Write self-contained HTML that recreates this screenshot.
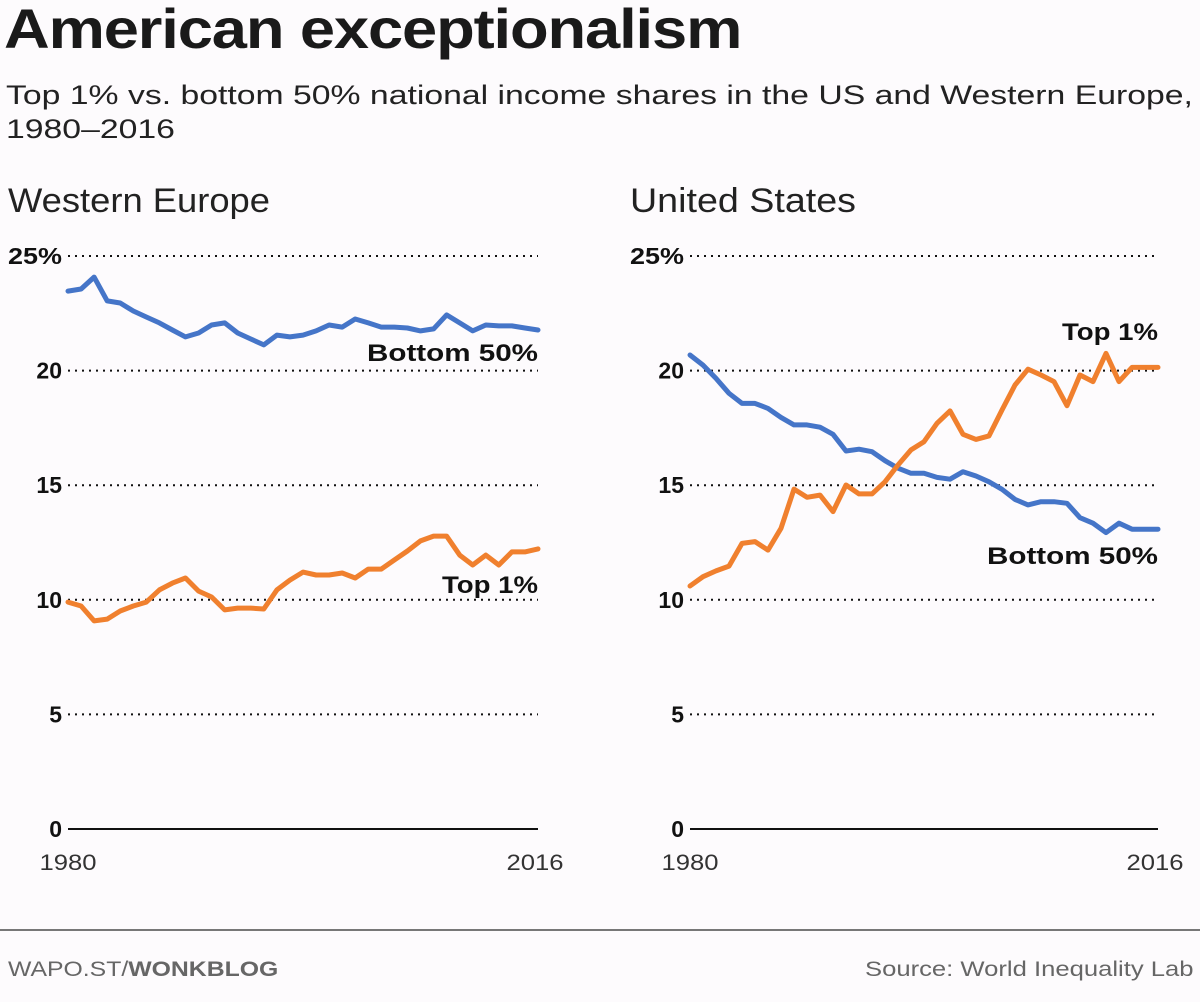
<!DOCTYPE html>
<html><head><meta charset="utf-8">
<style>
html,body{margin:0;padding:0;background:#fdfbfd;}
body{width:1200px;height:1002px;position:relative;overflow:hidden;font-family:"Liberation Sans",sans-serif;color:#111;}
.t{position:absolute;white-space:nowrap;transform-origin:0 0;}
</style></head><body>
<div class="t" style="left:4px;top:-4px;font-size:56px;font-weight:bold;letter-spacing:-1px;color:#1a1a1a;transform:scaleX(1.13);">American exceptionalism</div>
<div class="t" style="left:6px;top:78px;font-size:27px;line-height:34px;color:#222;transform:scaleX(1.25);">Top 1% vs. bottom 50% national income shares in the US and Western Europe,<br>1980–2016</div>
<svg id="chart" width="1200" height="1002" style="position:absolute;left:0;top:0"></svg>
<div style="position:absolute;left:0;top:929px;width:1200px;height:2px;background:#777;"></div>
<div class="t" style="left:8px;top:958px;font-size:21px;color:#666;transform:scaleX(1.18);">WAPO.ST/<b>WONKBLOG</b></div>
<div class="t" style="left:865px;top:958px;font-size:21px;color:#666;transform:scaleX(1.22);">Source: World Inequality Lab</div>
<script>
const years = [];
for (let y = 1980; y <= 2016; y++) years.push(y);
const euBottom50 = [23.47,23.56,24.08,23.04,22.95,22.60,22.34,22.08,21.77,21.47,21.64,21.99,22.08,21.64,21.38,21.12,21.55,21.47,21.55,21.73,21.99,21.90,22.25,22.08,21.90,21.90,21.86,21.73,21.82,22.43,22.08,21.73,21.99,21.95,21.95,21.86,21.77];
const euTop1 = [9.90,9.73,9.08,9.16,9.51,9.73,9.90,10.43,10.73,10.95,10.38,10.12,9.56,9.64,9.64,9.60,10.43,10.86,11.21,11.08,11.08,11.17,10.95,11.34,11.34,11.74,12.13,12.57,12.78,12.78,11.95,11.52,11.95,11.52,12.09,12.09,12.22];
const usBottom50 = [20.68,20.24,19.66,19.01,18.57,18.57,18.35,17.96,17.63,17.63,17.53,17.22,16.49,16.57,16.46,16.07,15.74,15.52,15.52,15.34,15.26,15.59,15.40,15.15,14.82,14.38,14.14,14.28,14.28,14.21,13.58,13.34,12.93,13.34,13.08,13.08,13.08];
const usTop1 = [10.60,11.01,11.26,11.47,12.46,12.54,12.17,13.12,14.83,14.47,14.57,13.85,15.01,14.62,14.62,15.15,15.88,16.54,16.90,17.70,18.24,17.22,17.00,17.15,18.28,19.37,20.06,19.81,19.52,18.47,19.81,19.52,20.75,19.52,20.14,20.14,20.14];
const yTicks = [0,5,10,15,20,25];
const yTickLabels = ["0","5","10","15","20","25%"];
const xTickLabels = ["1980","2016"];

const NS = "http://www.w3.org/2000/svg";
const svg = document.getElementById("chart");
function mk(tag, attrs, parent) {
  const e = document.createElementNS(NS, tag);
  for (const k in attrs) e.setAttribute(k, attrs[k]);
  (parent || svg).appendChild(e);
  return e;
}
function panel(cfg) {
  const g = mk("g", {});
  
  
  const x = yr => cfg.x0 + (yr - 1980) / 36 * (cfg.x1 - cfg.x0);
  const y = v => 829 - v * (829 - 256) / 25;
  const title = mk("text", {x: cfg.x0 - 60, y: 212, "font-size": 34, fill: "#222", textLength: cfg.titleLen, lengthAdjust: "spacingAndGlyphs"}, g);
  title.textContent = cfg.title;
  
  
  yTicks.forEach((t, i) => {
    const line = mk("line", {x1: cfg.x0, x2: cfg.x1, y1: y(t), y2: y(t), stroke: "#111",
      "stroke-width": 2, "stroke-dasharray": t === 0 ? "none" : "2 5"}, g);
    
    
    const lab = mk("text", {x: cfg.x0 - 6, y: y(t) + 8, "font-size": 23, "font-weight": "bold", "text-anchor": "end", fill: "#111"}, g);
    if (i === 5) { lab.setAttribute("textLength", 54); lab.setAttribute("lengthAdjust", "spacingAndGlyphs"); }
    lab.textContent = yTickLabels[i];
    
    
  });
  [1980, 2016].forEach((yr, i) => {
    const lab = mk("text", {x: x(yr) + (i === 0 ? 0 : -3), y: 870, "font-size": 22, "text-anchor": "middle", fill: "#333", textLength: 57, lengthAdjust: "spacingAndGlyphs"}, g);
    lab.textContent = xTickLabels[i];
    
    
  });
  cfg.series.forEach(s => {
    const d = s.data.map((v, i) => (i ? "L" : "M") + x(years[i]).toFixed(1) + " " + y(v).toFixed(1)).join(" ");
    const p = mk("path", {d: d, fill: "none", stroke: s.color, "stroke-width": 5, "stroke-linejoin": "round", "stroke-linecap": "round"}, g);
    
    
    const lab = mk("text", {x: s.lx, y: s.ly, "font-size": 24, "font-weight": "bold", "text-anchor": "end", fill: "#111", textLength: s.len, lengthAdjust: "spacingAndGlyphs"}, g);
    lab.textContent = s.label;
    
    
  });
}
panel({name: "western-europe-panel", title: "Western Europe", titleLen: 262, x0: 68, x1: 538, series: [
  {name: "eu-bottom-50-line", data: euBottom50, color: "#4575c8", label: "Bottom 50%", lx: 538, ly: 361, len: 171},
  {name: "eu-top-1-line", data: euTop1, color: "#f0802e", label: "Top 1%", lx: 538, ly: 593, len: 96}
]});
panel({name: "united-states-panel", title: "United States", titleLen: 226, x0: 690, x1: 1158, series: [
  {name: "us-bottom-50-line", data: usBottom50, color: "#4575c8", label: "Bottom 50%", lx: 1158, ly: 564, len: 171},
  {name: "us-top-1-line", data: usTop1, color: "#f0802e", label: "Top 1%", lx: 1158, ly: 340, len: 96}
]});
</script>
</body></html>
